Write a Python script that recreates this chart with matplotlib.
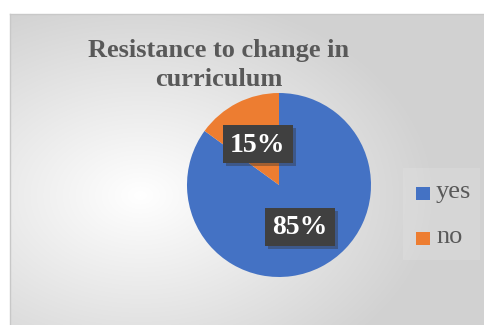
import numpy as np
import matplotlib.pyplot as plt
from matplotlib.patches import Rectangle
import matplotlib.patheffects as pe

# --- Data ---
labels = ["yes", "no"]
shares = [85, 15]
colors = ["#4472c4", "#ed7d31"]
title = "Resistance to change in\ncurriculum"

W, H = 485, 325
fig = plt.figure(figsize=(W / 100, H / 100), dpi=100)

# --- Background: chart area with soft radial gradient ---
bg = fig.add_axes([0, 0, 1, 1])
bg.set_xlim(0, W)
bg.set_ylim(H, 0)
bg.set_axis_off()
yy, xx = np.mgrid[0:H, 0:W]
r = np.sqrt(((xx - 140) / 330.0) ** 2 + ((yy - 195) / 230.0) ** 2)
val = np.clip(1.0 - 0.20 * r, 0.82, 1.0)
img = np.dstack([val, val, val])
img[:14, :, :] = 1.0
img[:, :10, :] = 1.0
bg.imshow(img, extent=(0, W, H, 0), interpolation="bilinear")
bg.plot([10, W], [14, 14], color="#c8c8c8", lw=1)
bg.plot([10, 10], [14, H], color="#c8c8c8", lw=1)
# faint legend panel
bg.add_patch(Rectangle((403, 168), 77, 92, facecolor="#eeeeee", edgecolor="none", alpha=0.2))

bg.text(219, 65, title, ha="center", va="center", fontsize=19, fontweight="bold",
        family="Liberation Serif", color="#595959", linespacing=1.3)

# --- Pie ---
cx, cy, rad = 279, 185, 92
ax = fig.add_axes([(cx - rad) / W, 1 - (cy + rad) / H, 2 * rad / W, 2 * rad / H])
ax.pie(shares, colors=colors, startangle=90, counterclock=False,
       wedgeprops=dict(linewidth=0))
ax.set_xlim(-1, 1)
ax.set_ylim(-1, 1)
ax.set_aspect("auto")

# --- Overlay for data labels and legend ---
top = fig.add_axes([0, 0, 1, 1])
top.set_xlim(0, W)
top.set_ylim(H, 0)
top.set_axis_off()
top.patch.set_alpha(0)

shadow = [pe.withSimplePatchShadow(offset=(2, -2), shadow_rgbFace="#333333", alpha=0.4)]
label_pos = {"yes": (300, 227), "no": (258, 144)}
for lab, val_ in zip(labels, shares):
    x, y = label_pos[lab]
    top.add_patch(Rectangle((x - 35, y - 19), 70, 38, facecolor="#404040",
                            edgecolor="none", path_effects=shadow))
    top.text(x, y + 1, f"{val_}%", ha="center", va="center", fontsize=20,
             fontweight="bold", family="Liberation Serif", color="white")

for i, (lab, col) in enumerate(zip(labels, colors)):
    y = 193 + i * 45
    top.add_patch(Rectangle((416, y - 6.5), 14, 13, facecolor=col, edgecolor="none"))
    top.text(436, y - 1, lab, ha="left", va="center", fontsize=19,
             family="Liberation Serif", color="#595959")

fig.savefig("out.png", dpi=100)
